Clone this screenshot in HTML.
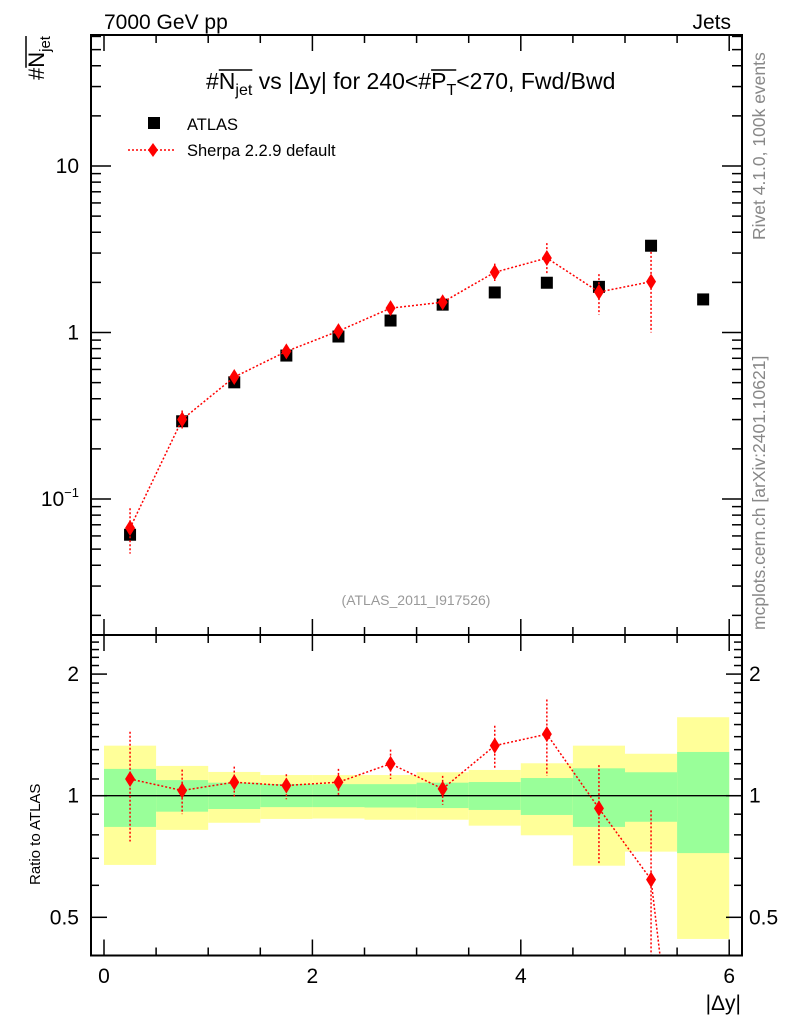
<!DOCTYPE html>
<html><head><meta charset="utf-8"><style>
html,body{margin:0;padding:0;background:#fff;overflow:hidden;width:786px;height:1024px}
svg{display:block;font-family:"Liberation Sans",Arial,sans-serif}
</style></head><body>
<svg id="c" width="786" height="1024" xmlns="http://www.w3.org/2000/svg">
<text x="104" y="29" font-size="21">7000 GeV pp</text>
<text x="731" y="29" font-size="21" text-anchor="end">Jets</text>
<g id="titleg">
<text id="title" x="206" y="89" font-size="23">#N<tspan font-size="16" dy="6">jet</tspan><tspan dy="-6"> vs |Δy| for 240&lt;#P</tspan><tspan font-size="16" dy="6">T</tspan><tspan dy="-6">&lt;270, Fwd/Bwd</tspan></text>
</g>
<g id="ytg" transform="translate(44,80) rotate(-90)">
<text id="ytitle" x="0" y="0" font-size="22">#N<tspan font-size="15" dy="6">jet</tspan></text>
</g>
<text transform="translate(40,885) rotate(-90)" font-size="15">Ratio to ATLAS</text>
<text x="741" y="1010" font-size="21" text-anchor="end">|Δy|</text>
<text transform="translate(765,240) rotate(-90)" font-size="17.5" fill="#888">Rivet 4.1.0,  100k events</text>
<text transform="translate(765,630) rotate(-90)" font-size="17.5" fill="#888">mcplots.cern.ch [arXiv:2401.10621]</text>
<text x="416" y="605" font-size="14" fill="#999" text-anchor="middle">(ATLAS_2011_I917526)</text>
<g>
<rect x="148" y="117" width="12" height="12" fill="#000"/>
<text x="187" y="130" font-size="16.5">ATLAS</text>
<line x1="128" y1="150" x2="176" y2="150" stroke="red" stroke-width="1.5" stroke-dasharray="2,2"/>
<polygon points="153,143 158,150 153,157 148,150" fill="red"/>
<text x="187" y="156" font-size="16.5">Sherpa 2.2.9 default</text>
</g>
<g id="main"></g><g id="ratio"></g><g id="axes"></g>
</svg>
<script>
const binEdges=[0,0.5,1,1.5,2,2.5,3,3.5,4,4.5,5,5.5,6];
const xCenters=[0.25,0.75,1.25,1.75,2.25,2.75,3.25,3.75,4.25,4.75,5.25,5.75];
const atlasVals=[0.061,0.293,0.502,0.727,0.946,1.18,1.47,1.74,1.99,1.88,3.32,1.58];
const sherpaVals=[0.067,0.30,0.54,0.77,1.02,1.40,1.52,2.30,2.80,1.75,2.02];
const sherpaUp=[0.088,0.34,0.59,0.82,1.09,1.53,1.65,2.59,3.44,2.24,3.05];
const sherpaDn=[0.047,0.264,0.50,0.71,0.95,1.30,1.40,2.04,2.23,1.28,1.00];
const ratioVals=[1.10,1.03,1.08,1.06,1.08,1.20,1.04,1.33,1.42,0.93,0.62,0.05];
const ratioUp=[1.44,1.16,1.18,1.13,1.165,1.30,1.12,1.49,1.73,1.19,0.92,0.05];
const ratioDn=[0.77,0.90,0.99,0.98,0.998,1.10,0.95,1.17,1.12,0.68,0.3,0.05];
const yellowUp=[1.33,1.185,1.145,1.125,1.125,1.125,1.143,1.158,1.203,1.33,1.27,1.564];
const yellowDn=[0.674,0.823,0.857,0.876,0.878,0.872,0.872,0.843,0.798,0.671,0.727,0.442];
const greenUp=[1.165,1.093,1.077,1.069,1.068,1.068,1.077,1.081,1.106,1.169,1.143,1.283];
const greenDn=[0.837,0.913,0.927,0.937,0.937,0.935,0.932,0.922,0.896,0.837,0.862,0.721];
const xTicks=[0,2,4,6];
const mainYTicks=[0.1,1,10];
const ratioYTicks=[0.5,1,2];

const NS="http://www.w3.org/2000/svg";
const L=91,R=742,T=35,MB=635,RB=955.5;
const xs=v=>104+v*104.2;
const ys=v=>166-166.5*Math.log10(v/10);
const yr=v=>795.7-404*Math.log10(v);
function mk(p,tag,at){const e=document.createElementNS(NS,tag);for(const k in at)e.setAttribute(k,at[k]);p.appendChild(e);return e;}
const main=document.getElementById('main'),ratio=document.getElementById('ratio'),axes=document.getElementById('axes');
const defs=mk(document.getElementById('c'),'defs',{});
const cp1=mk(defs,'clipPath',{id:'cm'});mk(cp1,'rect',{x:L,y:T,width:R-L,height:MB-T});
const cp2=mk(defs,'clipPath',{id:'cr'});mk(cp2,'rect',{x:L,y:MB,width:R-L,height:RB-MB});
main.setAttribute('clip-path','url(#cm)');ratio.setAttribute('clip-path','url(#cr)');

// overlines
function overline(textId,groupId,a,b){
 const t=document.getElementById(textId),g=document.getElementById(groupId);
 const ea=t.getExtentOfChar(a),eb=t.getExtentOfChar(b),en=t.getExtentOfChar(a);
 const y=en.y+2;
 const l=mk(g,'line',{x1:ea.x,x2:eb.x+eb.width,y1:y,y2:y,stroke:'#000','stroke-width':1.5});
 
 
}
try{
 const tt=document.getElementById('title').textContent;
 overline('title','titleg',1,4);
 const pi=tt.indexOf('#P')+1;
 overline('title','titleg',pi,pi+1);
 overline('ytitle','ytg',1,4);
}catch(e){}

for(let i=0;i<xCenters.length;i++){
 const x1=xs(binEdges[i]),x2=xs(binEdges[i+1]);
 const y=mk(ratio,'rect',{x:x1,y:yr(yellowUp[i]),width:x2-x1,height:yr(yellowDn[i])-yr(yellowUp[i]),fill:'#ffff99'});
 
 
 const g=mk(ratio,'rect',{x:x1,y:yr(greenUp[i]),width:x2-x1,height:yr(greenDn[i])-yr(greenUp[i]),fill:'#99ff99'});
 
 
}
const one=mk(ratio,'line',{x1:L,x2:R,y1:yr(1),y2:yr(1),stroke:'#000','stroke-width':1.3});



function series(g,vals,up,dn,yf,name,nPts){
 const idx=[...Array(vals.length).keys()];
 let pts=idx.map(i=>xs(xCenters[i])+','+yf(vals[i])).join(' ');
 const pl=mk(g,'polyline',{points:pts,fill:'none',stroke:'red','stroke-width':1.5,'stroke-dasharray':'2,2'});
 
 
 for(let i=0;i<nPts;i++){
  const x=xs(xCenters[i]);
  const e=mk(g,'line',{x1:x,x2:x,y1:yf(up[i]),y2:yf(dn[i]),stroke:'red','stroke-width':1.5,'stroke-dasharray':'2,2'});
  
  
  const y=yf(vals[i]);
  const d=mk(g,'polygon',{points:`${x},${y-8} ${x+5},${y} ${x},${y+8} ${x-5},${y}`,fill:'red'});
  
  
 }
}
for(let i=0;i<xCenters.length;i++){
 const r=mk(main,'rect',{x:xs(xCenters[i])-6,y:ys(atlasVals[i])-6,width:12,height:12,fill:'#000'});
 
 
}
series(main,sherpaVals,sherpaUp,sherpaDn,ys,'sherpa',sherpaVals.length);
series(ratio,ratioVals,ratioUp,ratioDn,yr,'sherpa-ratio',11);

for(const [t,b] of [[T,MB],[MB,RB]]){
 const f=mk(axes,'rect',{x:L,y:t,width:R-L,height:b-t,fill:'none',stroke:'#000','stroke-width':2});
 
 
}
function ln(x1,y1,x2,y2){mk(axes,'line',{x1,y1,x2,y2,stroke:'#000','stroke-width':1.5});}
for(let v=0;v<=6.001;v+=0.5){
 const x=xs(v),maj=Math.abs(v-Math.round(v))<1e-6&&Math.round(v)%2===0;
 const len=maj?16:8;
 ln(x,T,x,T+len);ln(x,MB,x,MB-len);ln(x,MB,x,MB+len);ln(x,RB,x,RB-len);
}
xTicks.forEach(v=>{const t=mk(axes,'text',{x:xs(v),y:983,'font-size':21,'text-anchor':'middle'});t.textContent=v;
 
 });
for(let d=-2;d<=1;d++){for(let m=1;m<=9;m++){const v=m*Math.pow(10,d);const y=ys(v);if(y<T||y>MB)continue;
 const len=m===1?20:10;ln(L,y,L+len,y);ln(R,y,R-len,y);}}
mainYTicks.forEach(v=>{const t=mk(axes,'text',{x:79,y:ys(v)+7,'font-size':21,'text-anchor':'end'});
 if(v===0.1){t.textContent='10';const s=mk(t,'tspan',{'font-size':13,dy:-9});s.textContent='−1';}else t.textContent=v;
 
 });
for(let v=0.4;v<=2.51;v+=0.1){const y=yr(v);if(y<MB||y>RB)continue;const r=Math.round(v*10)/10;
 const len=(r===0.5||r===1||r===2)?16:8;ln(L,y,L+len,y);ln(R,y,R-len,y);}
ratioYTicks.forEach(v=>{
 const t=mk(axes,'text',{x:79,y:yr(v)+7,'font-size':21,'text-anchor':'end'});t.textContent=v;
 
 
 const t2=mk(axes,'text',{x:749,y:yr(v)+7,'font-size':21});t2.textContent=v;
 
 
});
</script>
</body></html>
